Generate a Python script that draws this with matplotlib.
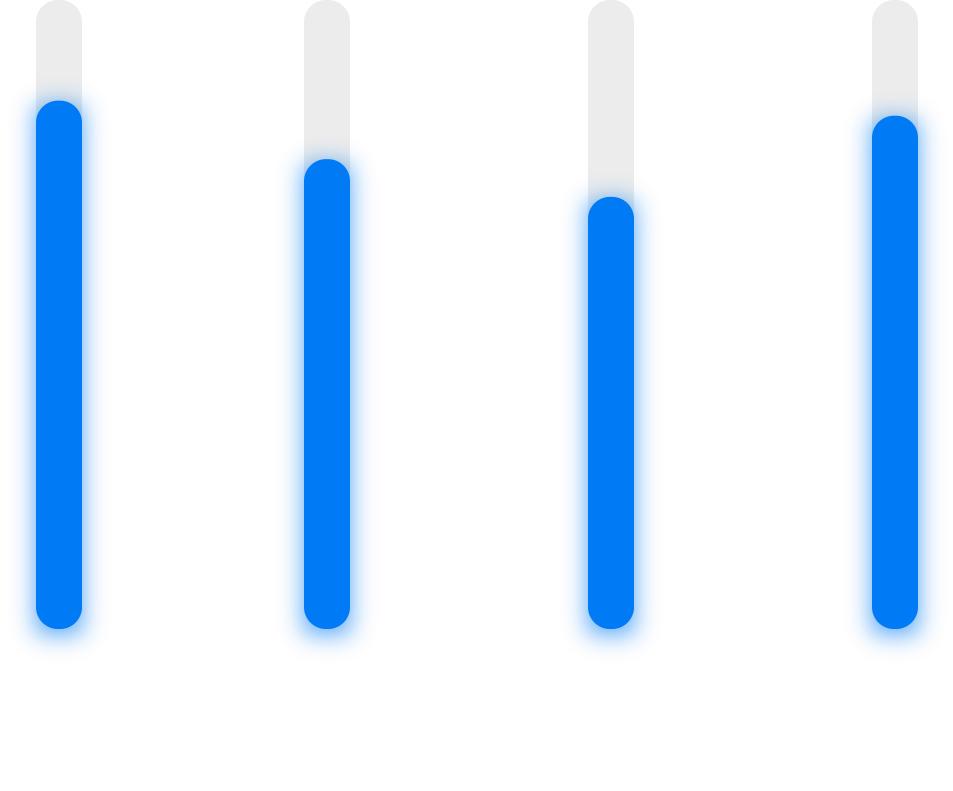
import numpy as np
import matplotlib
matplotlib.use("Agg")
from matplotlib import pyplot as plt
from matplotlib.patches import Polygon

# Data
categories = ["A", "B", "C", "D"]
values = [84, 74.7, 68.7, 81.6]
track_max = 100
# Horizontal layout of the bars (pixel-like x units)
positions = [59, 327, 611, 895]

BLUE = "#007bf5"
GREY = "#ececec"
W_PX, H_PX = 954, 791
BAR_W = 46
RADIUS = 22
BASE_PX = 629  # pixel row where the tracks end

fig = plt.figure(figsize=(W_PX / 100, H_PX / 100), dpi=100)
ax = fig.add_axes([0, 0, 1, 1])
ax.set_axis_off()

# y scale: 0 at the base, track_max at the top edge of the figure
px_per_unit = BASE_PX / track_max
ax.set_xlim(0, W_PX)
ax.set_ylim(-(H_PX - BASE_PX) / px_per_unit, track_max)


def rounded_outline(x, top):
    # rounded rectangle with circular corners, corrected for the y scale
    rx = RADIUS
    ry = RADIUS / px_per_unit
    left, right = x - BAR_W / 2, x + BAR_W / 2
    pts = []
    corners = [(right - rx, top - ry, 0, 90), (left + rx, top - ry, 90, 180),
               (left + rx, ry, 180, 270), (right - rx, ry, 270, 360)]
    for cx, cy, a0, a1 in corners:
        t = np.radians(np.linspace(a0, a1, 30))
        pts += list(zip(cx + rx * np.cos(t), cy + ry * np.sin(t)))
    return pts


def rounded_bar(x, top, color, z):
    ax.add_patch(Polygon(rounded_outline(x, top), closed=True,
                         facecolor=color, edgecolor="none", zorder=z))


def gauss_blur(img, sigma):
    r = int(3 * sigma)
    k = np.exp(-0.5 * (np.arange(-r, r + 1) / sigma) ** 2)
    k /= k.sum()
    img = np.apply_along_axis(lambda m: np.convolve(m, k, mode="same"), 0, img)
    img = np.apply_along_axis(lambda m: np.convolve(m, k, mode="same"), 1, img)
    return img


# glow mask built from the data through the axes transform
mask = np.zeros((H_PX, W_PX))
yy, xx = np.mgrid[0:H_PX, 0:W_PX]
for x, v in zip(positions, values):
    (x0, y0), (x1, y1) = ax.transData.transform([(x - BAR_W / 2, 0), (x + BAR_W / 2, v)])
    r0, r1 = H_PX - y1, H_PX - y0
    inside = (xx >= x0) & (xx <= x1) & (yy >= r0) & (yy <= r1)
    mask[inside] = 1.0
mask = np.roll(mask, 4, axis=0)
glow = gauss_blur(mask, 12)
rgba = np.zeros((H_PX, W_PX, 4))
rgba[..., :3] = matplotlib.colors.to_rgb(BLUE)
rgba[..., 3] = np.clip(glow * 0.7, 0, 1)

for x in positions:
    rounded_bar(x, track_max, GREY, 1)

ax.imshow(rgba, extent=[0, W_PX, ax.get_ylim()[0], track_max],
          aspect="auto", zorder=2, interpolation="bilinear")

for x, v in zip(positions, values):
    rounded_bar(x, v, BLUE, 3)

ax.set_xlim(0, W_PX)
ax.set_ylim(-(H_PX - BASE_PX) / px_per_unit, track_max)

fig.savefig("out.png", dpi=100, facecolor="white")
